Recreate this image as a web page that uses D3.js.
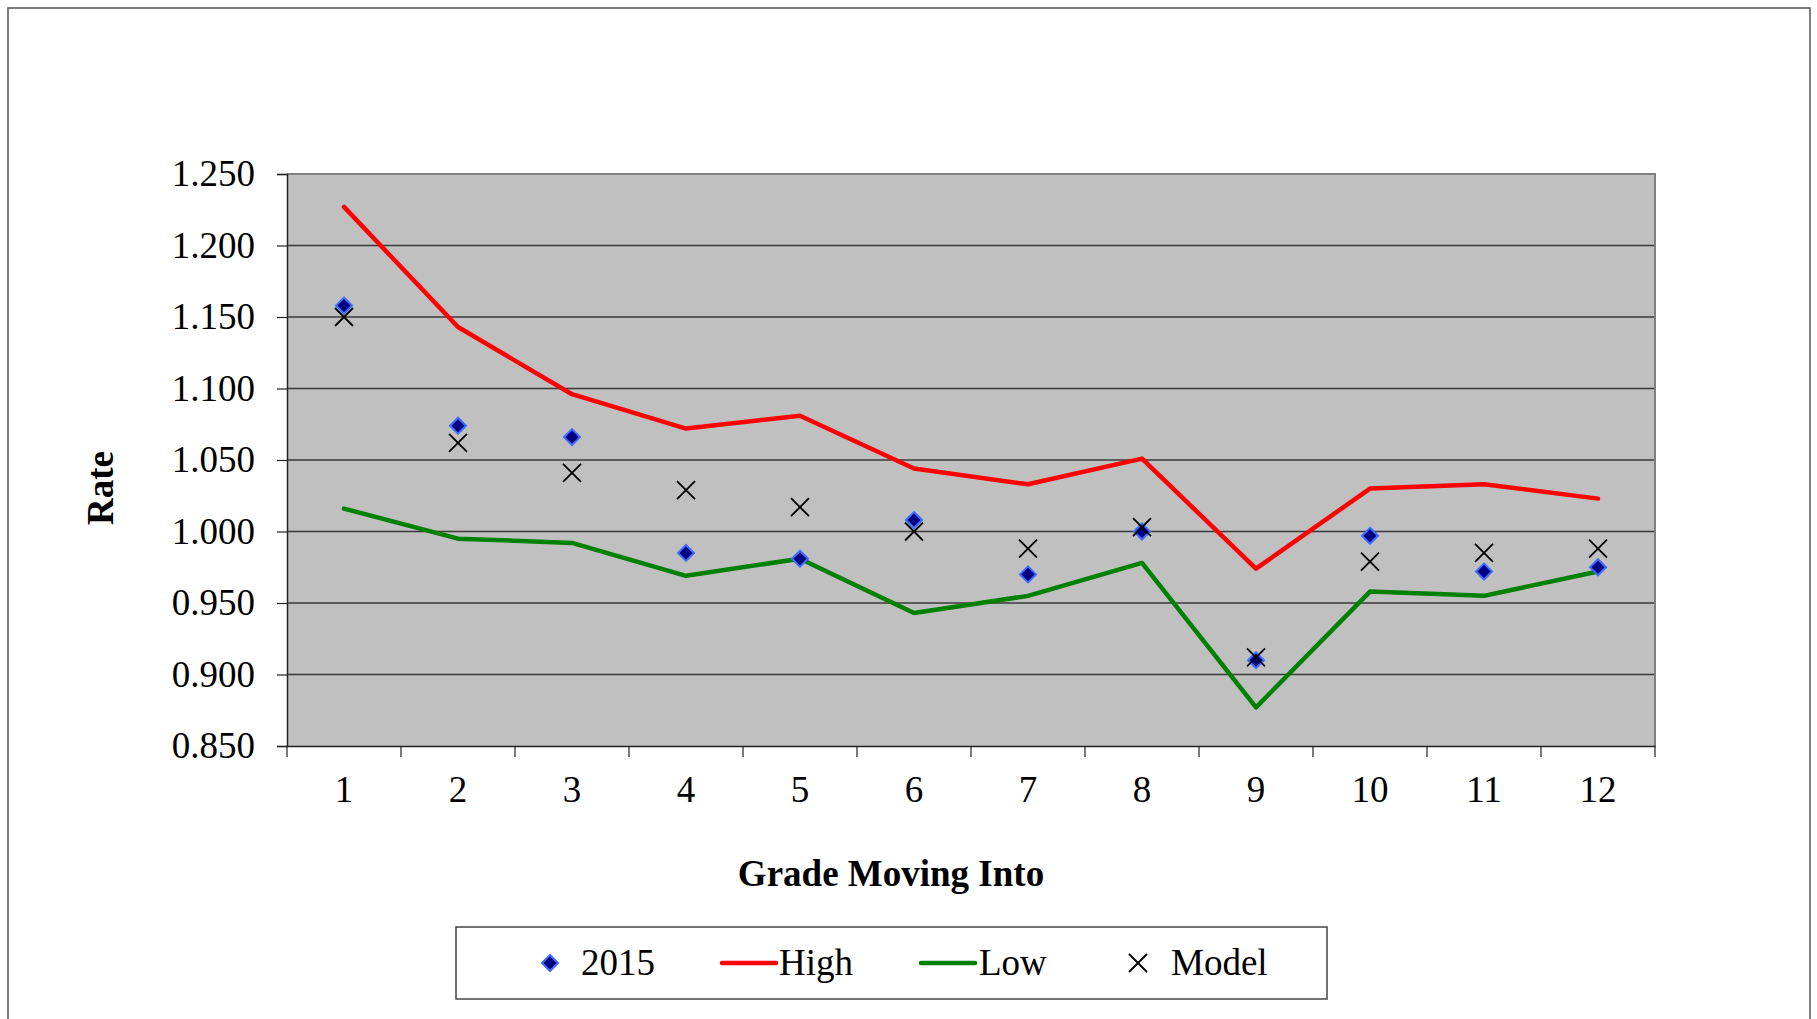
<!DOCTYPE html>
<html>
<head>
<meta charset="utf-8">
<script src="https://cdn.jsdelivr.net/npm/d3@7"></script>
<style>
  body { margin: 0; background: #fff; }
  text { font-family: "Liberation Serif", "Times New Roman", serif; fill: #000; }
</style>
</head>
<body>
<script>
// Data
const grades = [1, 2, 3, 4, 5, 6, 7, 8, 9, 10, 11, 12];
const rate2015 = [1.158, 1.074, 1.066, 0.985, 0.981, 1.008, 0.970, 1.000, 0.910, 0.997, 0.972, 0.975];
const high = [1.227, 1.143, 1.096, 1.072, 1.081, 1.044, 1.033, 1.051, 0.974, 1.030, 1.033, 1.023];
const low = [1.016, 0.995, 0.992, 0.969, 0.981, 0.943, 0.955, 0.978, 0.877, 0.958, 0.955, 0.972];
const model = [1.150, 1.062, 1.041, 1.029, 1.017, 1.000, 0.988, 1.003, 0.912, 0.979, 0.985, 0.988];
const yTicks = [0.850, 0.900, 0.950, 1.000, 1.050, 1.100, 1.150, 1.200, 1.250];

const W = 1817, H = 1019;
const plot = { left: 287, right: 1655, top: 174, bottom: 746 };

const svg = d3.select("body").append("svg")
  .attr("width", W)
  .attr("height", H);

// outer chart frame
svg.append("rect")
  .attr("x", 8).attr("y", 8)
  .attr("width", 1802).attr("height", 1100)
  .attr("fill", "#fff")
  .attr("stroke", "#555").attr("stroke-width", 1.5);

// Scales
const x = d3.scaleBand()
  .domain(grades)
  .range([plot.left, plot.right]);
const y = d3.scaleLinear()
  .domain([0.85, 1.25])
  .range([plot.bottom, plot.top]);
const cx = d => x(d) + x.bandwidth() / 2;

// plot background
svg.append("rect")
  .attr("x", plot.left).attr("y", plot.top)
  .attr("width", plot.right - plot.left).attr("height", plot.bottom - plot.top)
  .attr("fill", "#c0c0c0");

// gridlines
svg.append("g")
  .selectAll("line")
  .data(yTicks.slice(1, -1))
  .join("line")
  .attr("x1", plot.left).attr("x2", plot.right)
  .attr("y1", d => y(d)).attr("y2", d => y(d))
  .attr("stroke", "#3a3a3a").attr("stroke-width", 1.5);

// top and right border
svg.append("path")
  .attr("d", `M${plot.left},${plot.top}H${plot.right}V${plot.bottom}`)
  .attr("fill", "none")
  .attr("stroke", "#808080").attr("stroke-width", 2);

// Axes
const yAxis = d3.axisLeft(y)
  .tickValues(yTicks)
  .tickSize(10)
  .tickPadding(22)
  .tickFormat(d3.format(".3f"));

const gy = svg.append("g")
  .attr("transform", `translate(${plot.left},0)`)
  .call(yAxis);
gy.select(".domain").attr("stroke", "#222").attr("stroke-width", 1.5);
gy.selectAll(".tick line").attr("stroke", "#222").attr("stroke-width", 1.2);
gy.selectAll("text")
  .style("font-family", "'Liberation Serif', serif")
  .style("font-size", "37px")
  .attr("fill", "#000");

// x axis: ticks between categories
const xAxis = d3.axisBottom(x).tickSize(0).tickPadding(30);
const gx = svg.append("g")
  .attr("transform", `translate(0,${plot.bottom})`)
  .call(xAxis);
gx.select(".domain").attr("stroke", "#222").attr("stroke-width", 1.5);
gx.selectAll("text")
  .style("font-family", "'Liberation Serif', serif")
  .style("font-size", "37px")
  .attr("fill", "#000");

svg.append("g")
  .selectAll("line")
  .data(grades.concat([13]))
  .join("line")
  .attr("x1", (d, i) => plot.left + i * x.bandwidth())
  .attr("x2", (d, i) => plot.left + i * x.bandwidth())
  .attr("y1", plot.bottom).attr("y2", plot.bottom + 11)
  .attr("stroke", "#222").attr("stroke-width", 1.2);

// Lines
const line = d3.line()
  .x((d, i) => cx(grades[i]))
  .y(d => y(d));

svg.append("path")
  .datum(high)
  .attr("d", line)
  .attr("fill", "none")
  .attr("stroke", "#ff0000").attr("stroke-width", 4.5)
  .attr("stroke-linecap", "round").attr("stroke-linejoin", "round");

svg.append("path")
  .datum(low)
  .attr("d", line)
  .attr("fill", "none")
  .attr("stroke", "#008000").attr("stroke-width", 4.5)
  .attr("stroke-linecap", "round").attr("stroke-linejoin", "round");

// diamond and cross markers
const diamond = r => `M0,${-r}L${r},0L0,${r}L${-r},0Z`;
const cross = r => `M${-r},${-r}L${r},${r}M${-r},${r}L${r},${-r}`;

svg.append("g")
  .selectAll("path")
  .data(rate2015)
  .join("path")
  .attr("transform", (d, i) => `translate(${cx(grades[i])},${y(d)})`)
  .attr("d", diamond(8))
  .attr("fill", "#000080")
  .attr("stroke", "#3d6cff").attr("stroke-width", 2);

svg.append("g")
  .selectAll("path")
  .data(model)
  .join("path")
  .attr("transform", (d, i) => `translate(${cx(grades[i])},${y(d)})`)
  .attr("d", cross(9))
  .attr("fill", "none")
  .attr("stroke", "#000").attr("stroke-width", 1.8);

// Axis titles
svg.append("text")
  .attr("x", 891).attr("y", 886)
  .attr("text-anchor", "middle")
  .style("font-size", "37px")
  .style("font-weight", "bold")
  .text("Grade Moving Into");

svg.append("text")
  .attr("transform", "translate(113,488) rotate(-90)")
  .attr("text-anchor", "middle")
  .style("font-size", "37px")
  .style("font-weight", "bold")
  .text("Rate");

// Legend
const legend = svg.append("g");
legend.append("rect")
  .attr("x", 456).attr("y", 927)
  .attr("width", 871).attr("height", 72)
  .attr("fill", "#fff")
  .attr("stroke", "#444").attr("stroke-width", 1.5);

const legY = 963;
legend.append("path")
  .attr("transform", `translate(550,${legY})`)
  .attr("d", diamond(8))
  .attr("fill", "#000080")
  .attr("stroke", "#3d6cff").attr("stroke-width", 2);
legend.append("line")
  .attr("x1", 722).attr("x2", 776).attr("y1", legY).attr("y2", legY)
  .attr("stroke", "#ff0000").attr("stroke-width", 4.5).attr("stroke-linecap", "round");
legend.append("line")
  .attr("x1", 921).attr("x2", 975).attr("y1", legY).attr("y2", legY)
  .attr("stroke", "#008000").attr("stroke-width", 4.5).attr("stroke-linecap", "round");
legend.append("path")
  .attr("transform", `translate(1138,${legY})`)
  .attr("d", cross(9))
  .attr("stroke", "#000").attr("stroke-width", 1.8);

const legendItems = [
  { label: "2015", x: 581 },
  { label: "High", x: 779 },
  { label: "Low", x: 979 },
  { label: "Model", x: 1171 }
];
legend.selectAll("text.leg")
  .data(legendItems)
  .join("text")
  .attr("class", "leg")
  .attr("x", d => d.x).attr("y", 975)
  .style("font-size", "37px")
  .text(d => d.label);
</script>
</body>
</html>
